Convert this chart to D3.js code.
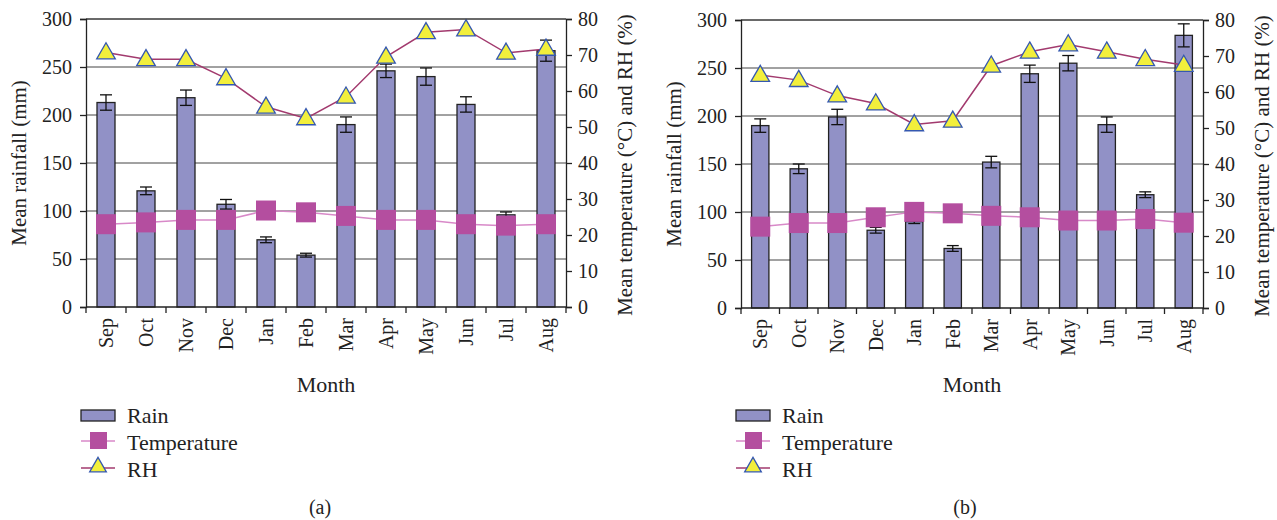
<!DOCTYPE html>
<html>
<head>
<meta charset="utf-8">
<script src="https://cdn.jsdelivr.net/npm/d3@7"></script>
<style>
  body { margin: 0; background: #fff; }
  svg text { font-family: "Liberation Serif", "Times New Roman", serif; fill: #222; }
</style>
</head>
<body>
<div id="chart"></div>
<script>
const months = ["Sep", "Oct", "Nov", "Dec", "Jan", "Feb", "Mar", "Apr", "May", "Jun", "Jul", "Aug"];
const rainTicks = [0, 50, 100, 150, 200, 250, 300];
const rightTicks = [0, 10, 20, 30, 40, 50, 60, 70, 80];

// panel (a)
const rainA    = [213, 121, 218, 107, 70, 54, 190, 246, 240, 211, 96, 267];
const rainErrA = [8, 4, 8, 5, 3, 2, 8, 7, 9, 8, 3, 11];
const tempA    = [23, 23.5, 24.2, 24.2, 26.8, 26.3, 25.3, 24.2, 24.2, 23, 22.6, 23];
const rhA      = [70.7, 68.8, 68.8, 63.5, 55.6, 52.4, 58.4, 69.5, 76.3, 77.1, 70.6, 71.7];

// panel (b)
const rainB    = [190, 145, 199, 81, 90, 62, 152, 244, 255, 191, 118, 284];
const rainErrB = [7, 5, 8, 3, 2, 3, 6, 9, 8, 8, 3, 12];
const tempB    = [22.6, 23.6, 23.6, 25.2, 26.7, 26.3, 25.6, 25.2, 24.3, 24.3, 24.7, 23.7];
const rhB      = [64.7, 63.3, 59, 56.8, 51, 52, 67.3, 71.2, 73.2, 71.2, 69.1, 67.5];

const barFill = "#9191c6", squareFill = "#b44e9f", tempLine = "#d889c8",
      rhLine = "#a23a6e", triFill = "#f2ef3c", triStroke = "#3558b0";
const fs = "20px", fsTitle = "21px", fsBig = "22px";

const svg = d3.select("#chart").append("svg")
    .attr("width", 1277).attr("height", 520);

function drawPanel(o) {
    const x = d3.scaleBand().domain(months).range([o.x0, o.x1]);
    const y = d3.scaleLinear().domain([0, 300]).range([o.yb, o.yt]);
    const y2 = d3.scaleLinear().domain([0, 80]).range([o.yb, o.yt]);
    const g = svg.append("g");

    // gridlines
    g.selectAll(".grid").data(rainTicks.slice(1)).enter().append("line")
        .attr("x1", o.x0).attr("x2", o.x1)
        .attr("y1", d => y(d)).attr("y2", d => y(d))
        .attr("stroke", "#444").attr("stroke-width", 1);

    // bars
    const bw = x.bandwidth() * 0.45;
    g.selectAll(".bar").data(months).enter().append("rect")
        .attr("x", d => x(d) + x.bandwidth() / 2 - bw / 2)
        .attr("y", (d, i) => y(o.rain[i]))
        .attr("width", bw)
        .attr("height", (d, i) => y(0) - y(o.rain[i]))
        .attr("fill", barFill).attr("stroke", "#222").attr("stroke-width", 1.3);

    // error bars
    const eb = g.selectAll(".err").data(months).enter().append("g")
        .attr("stroke", "#111").attr("stroke-width", 1.3);
    const cx = d => x(d) + x.bandwidth() / 2;
    eb.append("line")
        .attr("x1", cx).attr("x2", cx)
        .attr("y1", (d, i) => y(o.rain[i] + o.err[i]))
        .attr("y2", (d, i) => y(o.rain[i] - o.err[i]));
    [1, -1].forEach(s => {
        eb.append("line")
            .attr("x1", d => cx(d) - 6).attr("x2", d => cx(d) + 6)
            .attr("y1", (d, i) => y(o.rain[i] + s * o.err[i]))
            .attr("y2", (d, i) => y(o.rain[i] + s * o.err[i]));
    });

    // temperature
    g.append("path")
        .attr("d", d3.line().x((d, i) => cx(months[i])).y(d => y2(d))(o.temp))
        .attr("fill", "none").attr("stroke", tempLine).attr("stroke-width", 1.5);
    g.selectAll(".sq").data(o.temp).enter().append("rect")
        .attr("x", (d, i) => cx(months[i]) - 10)
        .attr("y", d => y2(d) - 10)
        .attr("width", 20).attr("height", 20)
        .attr("fill", squareFill);

    // RH
    g.append("path")
        .attr("d", d3.line().x((d, i) => cx(months[i])).y(d => y2(d))(o.rh))
        .attr("fill", "none").attr("stroke", rhLine).attr("stroke-width", 1.5);
    const tri = d3.symbol().type(d3.symbolTriangle).size(150);
    g.selectAll(".tri").data(o.rh).enter().append("path")
        .attr("d", tri)
        .attr("transform", (d, i) => `translate(${cx(months[i])},${y2(d) + 1})`)
        .attr("fill", triFill).attr("stroke", triStroke).attr("stroke-width", 1.3);

    // top border
    g.append("line").attr("x1", o.x0).attr("x2", o.x1)
        .attr("y1", o.yt).attr("y2", o.yt).attr("stroke", "#333");

    // left axis
    const la = g.append("g").attr("transform", `translate(${o.x0},0)`)
        .call(d3.axisLeft(y).tickValues(rainTicks).tickSize(6).tickPadding(8));
    // right axis
    const ra = g.append("g").attr("transform", `translate(${o.x1},0)`)
        .call(d3.axisRight(y2).tickValues(rightTicks).tickSize(6).tickPadding(6));
    // bottom axis (ticks at category boundaries)
    const xb = g.append("g").attr("transform", `translate(0,${o.yb})`);
    xb.append("line").attr("x1", o.x0).attr("x2", o.x1).attr("stroke", "#222").attr("stroke-width", 1.3);
    xb.selectAll(".xt").data(months.concat(["end"])).enter().append("line")
        .attr("x1", (d, i) => o.x0 + i * x.step()).attr("x2", (d, i) => o.x0 + i * x.step())
        .attr("y1", 0).attr("y2", 6).attr("stroke", "#222").attr("stroke-width", 1.3);
    xb.selectAll(".xl").data(months).enter().append("text")
        .attr("transform", d => `translate(${cx(d)},11) rotate(-90)`)
        .attr("text-anchor", "end").attr("dy", "0.35em")
        .style("font-size", fs).text(d => d);

    [la, ra].forEach(a => {
        a.attr("font-family", null);
        a.select(".domain").attr("stroke", "#222").attr("stroke-width", 1.3);
        a.selectAll(".tick line").attr("stroke", "#222").attr("stroke-width", 1.3);
        a.selectAll(".tick text").style("font-size", fs).attr("fill", "#222");
    });

    const midY = (o.yt + o.yb) / 2;
    g.append("text")
        .attr("transform", `translate(${o.x0 - 67},${midY}) rotate(-90)`)
        .attr("text-anchor", "middle").attr("dy", "0.35em")
        .style("font-size", fsTitle).text("Mean rainfall (mm)");
    g.append("text")
        .attr("transform", `translate(${o.x1 + 59},${midY + 2}) rotate(-90)`)
        .attr("text-anchor", "middle").attr("dy", "0.35em")
        .style("font-size", fsTitle).text("Mean temperature (\u00B0C) and RH (%)");
    g.append("text")
        .attr("x", (o.x0 + o.x1) / 2).attr("y", 384).attr("dy", "0.35em")
        .attr("text-anchor", "middle").style("font-size", fsBig).text("Month");

    // legend
    const lg = g.append("g").attr("transform", `translate(${o.legX},0)`);
    lg.append("rect").attr("x", 0).attr("y", 410).attr("width", 34).attr("height", 11)
        .attr("fill", barFill).attr("stroke", "#222").attr("stroke-width", 1.3);
    lg.append("line").attr("x1", 0).attr("x2", 34).attr("y1", 441).attr("y2", 441)
        .attr("stroke", tempLine).attr("stroke-width", 1.5);
    lg.append("rect").attr("x", 9).attr("y", 432).attr("width", 17).attr("height", 17)
        .attr("fill", squareFill);
    lg.append("line").attr("x1", 0).attr("x2", 34).attr("y1", 468).attr("y2", 468)
        .attr("stroke", rhLine).attr("stroke-width", 1.5);
    lg.append("path").attr("d", d3.symbol().type(d3.symbolTriangle).size(120))
        .attr("transform", "translate(17,467)")
        .attr("fill", triFill).attr("stroke", triStroke).attr("stroke-width", 1.3);
    ["Rain", "Temperature", "RH"].forEach((t, i) => {
        lg.append("text").attr("x", 46).attr("y", 415 + i * 27).attr("dy", "0.35em")
            .style("font-size", fsBig).text(t);
    });

    g.append("text")
        .attr("x", o.capX).attr("y", 507).attr("dy", "0.35em")
        .attr("text-anchor", "middle").style("font-size", fs).text(o.caption);
}

drawPanel({x0: 86, x1: 566, yt: 19, yb: 307, rain: rainA, err: rainErrA, temp: tempA, rh: rhA,
           legX: 81, capX: 320, caption: "(a)"});
drawPanel({x0: 741, x1: 1203, yt: 20, yb: 308, rain: rainB, err: rainErrB, temp: tempB, rh: rhB,
           legX: 736, capX: 965, caption: "(b)"});
</script>
</body>
</html>
